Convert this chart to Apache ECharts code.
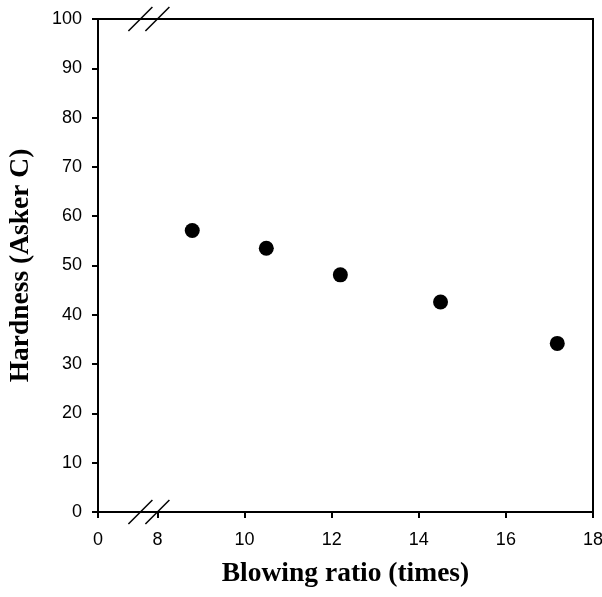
<!DOCTYPE html>
<html><head><meta charset="utf-8">
<script src="https://cdn.jsdelivr.net/npm/echarts@6/dist/echarts.min.js"></script>
<style>html,body{margin:0;padding:0;background:#fff}#c{width:602px;height:597px}</style>
</head><body><div id="c"></div>
<script>
const blowingRatio = [8.8, 10.5, 12.2, 14.5, 17.18];
const hardness = [57.1, 53.5, 48.1, 42.6, 34.2];
const xTitle = 'Blowing ratio (times)';
const yTitle = 'Hardness (Asker C)';

const chart = echarts.init(document.getElementById('c'));
const axisCommon = {
  axisLine: {show: true, lineStyle: {color: '#000', width: 2}},
  axisTick: {show: true, inside: false, length: 6, lineStyle: {color: '#000', width: 2}},
  splitLine: {show: false},
  axisLabel: {color: '#000', fontFamily: 'Liberation Sans', fontSize: 18},
  nameTextStyle: {color: '#000', fontFamily: 'Liberation Serif', fontWeight: 'bold', fontSize: 27.5}
};
chart.setOption({
  animation: false,
  grid: {left: 98, right: 9, top: 19, bottom: 85, show: true, borderColor: '#000', borderWidth: 2,
         containLabel: false, outerBoundsMode: 'none'},
  xAxis: Object.assign({}, axisCommon, {
    type: 'value', min: 0, max: 18, interval: 2,
    breaks: [{start: 0, end: 8, gap: '12%'}],
    breakArea: {show: false},
    name: xTitle, nameLocation: 'middle', nameGap: 48,
    axisLabel: Object.assign({}, axisCommon.axisLabel, {margin: 19})
  }),
  yAxis: Object.assign({}, axisCommon, {
    type: 'value', min: 0, max: 100, interval: 10,
    name: yTitle, nameLocation: 'middle', nameGap: 63,
    axisLabel: Object.assign({}, axisCommon.axisLabel, {margin: 16})
  }),
  series: [{
    type: 'scatter', symbol: 'circle', symbolSize: 15,
    itemStyle: {color: '#000', opacity: 1},
    data: blowingRatio.map((x, i) => [x, hardness[i]])
  }]
});

const p8 = chart.convertToPixel({xAxisIndex: 0}, 8);
const yTop = chart.convertToPixel({yAxisIndex: 0}, 100);
const yBot = chart.convertToPixel({yAxisIndex: 0}, 0);
const els = [];
[yTop, yBot].forEach(y => {
  [p8 - 17, p8].forEach(cx => {
    els.push({type: 'line', shape: {x1: cx - 12, y1: y + 12, x2: cx + 12, y2: y - 12},
      style: {stroke: '#000', lineWidth: 1.5}, z: 100});
  });
});
chart.setOption({graphic: els});
</script></body></html>
